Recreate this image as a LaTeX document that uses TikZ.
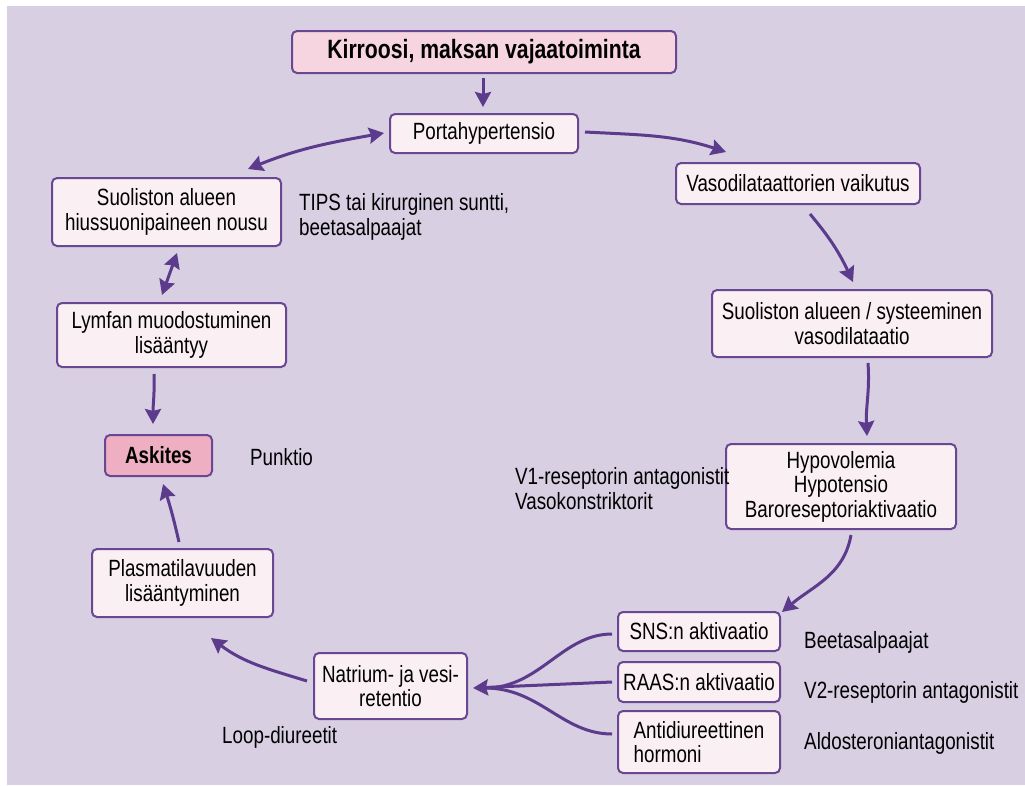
\documentclass[tikz,border=0pt]{standalone}
\usepackage{fontspec}
\setmainfont{Liberation Sans}[FakeStretch=0.8]
\usetikzlibrary{arrows.meta,calc}
\definecolor{bg}{HTML}{D8CFE3}
\definecolor{boxline}{HTML}{6A4792}
\definecolor{boxfill}{HTML}{FAEFF3}
\definecolor{titlefill}{HTML}{F6D5E0}
\definecolor{askfill}{HTML}{EFAFC2}
\definecolor{arrowc}{HTML}{5C3A8C}
\begin{document}
\begin{tikzpicture}[x=1pt,y=1pt,
  font=\fontsize{23.5}{24.5}\selectfont,
  box/.style={draw=boxline, line width=2pt, fill=boxfill, rounded corners=5pt, inner sep=0pt, align=center, text=black},
  titlebox/.style={box, fill=titlefill, font=\fontsize{26.5}{27}\selectfont\bfseries},
  askbox/.style={box, fill=askfill, font=\fontsize{23.5}{24.5}\selectfont\bfseries},
  lbl/.style={inner sep=0pt, align=left, anchor=west, text=black},
  link/.style={draw=arrowc, line width=3pt},
  arr/.style={link, -{Stealth[length=15pt,width=16pt,inset=2pt]}},
  darr/.style={link, {Stealth[length=15pt,width=16pt,inset=2pt]}-{Stealth[length=15pt,width=16pt,inset=2pt]}}
]
\useasboundingbox (0,0) rectangle (1025,-785);
\fill[bg] (7,-6) rectangle (1025,-785);

% boxes
\node[titlebox, minimum width=384pt, minimum height=42pt] (title) at (484,-52) {Kirroosi, maksan vajaatoiminta};
\node[box, minimum width=188pt, minimum height=39pt] (porta) at (484,-133.5) {Portahypertensio};
\node[box, minimum width=244pt, minimum height=41pt] (vaso) at (798,-183.5) {Vasodilataattorien vaikutus};
\node[box, minimum width=280pt, minimum height=67pt] (sysv) at (852,-323.5) {Suoliston alueen / systeeminen\\vasodilataatio};
\node[box, minimum width=230pt, minimum height=85pt] (hypo) at (841,-486.5) {Hypovolemia\\Hypotensio\\Baroreseptoriaktivaatio};
\node[box, minimum width=162pt, minimum height=39pt] (sns) at (699,-631.5) {SNS:n aktivaatio};
\node[box, minimum width=162pt, minimum height=40pt] (raas) at (699,-682) {RAAS:n aktivaatio};
\node[box, minimum width=162pt, minimum height=62pt, align=left] (adh) at (699,-742) {Antidiureettinen\\hormoni};
\node[box, minimum width=153pt, minimum height=66pt] (natr) at (390.5,-686) {Natrium- ja vesi-\\retentio};
\node[box, minimum width=181pt, minimum height=68pt] (plasma) at (182.5,-583) {Plasmatilavuuden\\lisääntyminen};
\node[askbox, minimum width=107pt, minimum height=41pt] (ask) at (158.5,-455.5) {Askites};
\node[box, minimum width=229pt, minimum height=64pt] (lymf) at (171.5,-335) {Lymfan muodostuminen\\lisääntyy};
\node[box, minimum width=229pt, minimum height=68pt] (hius) at (166.5,-212) {Suoliston alueen\\hiussuonipaineen nousu};

% labels
\node[lbl] (tips) at (299,-217) {TIPS tai kirurginen suntti,\\beetasalpaajat};
\node[lbl] (v1) at (515,-488.5) {V1-reseptorin antagonistit\\Vasokonstriktorit};
\node[lbl] (punk) at (250,-457) {Punktio};
\node[lbl] (loop) at (222,-737) {Loop-diureetit};
\node[lbl] (beeta) at (804,-642) {Beetasalpaajat};
\node[lbl] (v2) at (804,-692) {V2-reseptorin antagonistit};
\node[lbl] (aldo) at (804,-743) {Aldosteroniantagonistit};

% connectors
\draw[arr] ($(title.south)+(-1,-4)$) -- ($(porta.north)+(-1,6)$);
\draw[darr] ($(porta.west)+(-5,0.5)$) to[out=190,in=22] ($(hius.north east)+(-34,8)$);
\draw[arr] ($(porta.east)+(6,1.5)$) to[out=-3,in=162] ($(vaso.north west)+(51,10)$);
\draw[arr] ($(vaso.south)+(12,-9)$) to[out=-50,in=115] ($(sysv.north)+(1,7)$);
\draw[arr] ($(sysv.south)+(16,-5)$) to[out=-86,in=93] ($(hypo.north)+(26,7)$);
\draw[arr] ($(hypo.south)+(10,-5)$) to[out=-100,in=40] ($(sns.north east)+(1,-1)$);

\coordinate (fan) at ($(natr.east)+(5,-2)$);
\draw[link] ($(sns.west)+(-5,-2.5)$) .. controls +(-50,0) and +(55,0) .. ($(fan)+(12,0)$);
\draw[link] ($(adh.west)+(-5,8)$) .. controls +(-50,0) and +(55,0) .. ($(fan)+(12,0)$);
\draw[arr] ($(raas.west)+(-5,0)$) -- (fan);

\draw[arr] ($(natr.west)+(-6,5)$) to[out=163,in=-37] ($(plasma.south east)+(-63,-20)$);
\draw[arr] ($(plasma.north)+(-3.5,6)$) to[out=103,in=-72] ($(ask.south)+(4.5,-7)$);
\draw[arr] ($(lymf.south)+(-17.5,-6)$) to[out=-88,in=90] ($(ask.north)+(-5.5,10)$);
\draw[darr] ($(hius.south)+(10.5,-6)$) -- ($(lymf.north)+(-9.5,7)$);
\end{tikzpicture}
\end{document}
